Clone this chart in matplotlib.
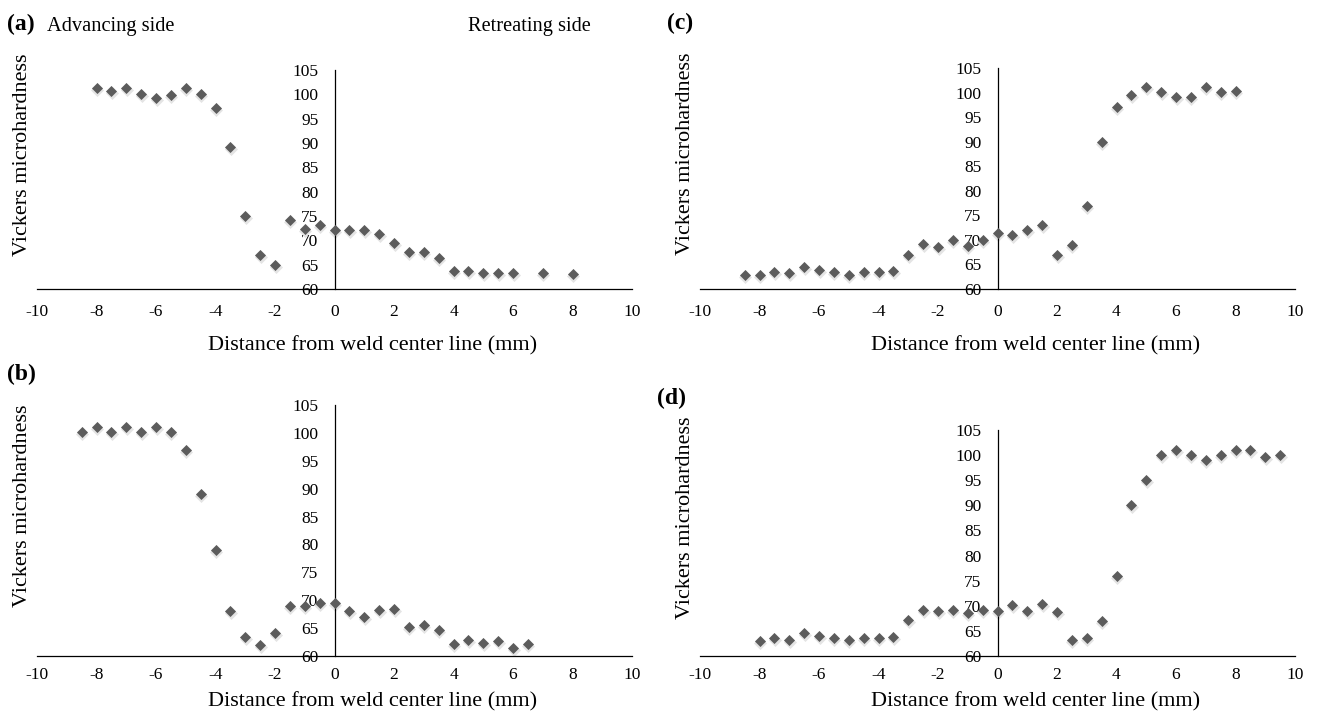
import matplotlib
matplotlib.use('Agg')
import matplotlib.pyplot as plt
import matplotlib.transforms as mtransforms

plt.rcParams['font.family'] = ['Liberation Serif', 'DejaVu Serif']

# panel (a)
xa = [-8, -7.5, -7, -6.5, -6, -5.5, -5, -4.5, -4, -3.5, -3, -2.5, -2, -1.5, -1, -0.5,
      0, 0.5, 1, 1.5, 2, 2.5, 3, 3.5, 4, 4.5, 5, 5.5, 6, 7, 8]
ya = [101.2, 100.7, 101.2, 100.0, 99.2, 99.8, 101.2, 100.1, 97.2, 89.1, 75.0, 67.0, 65.0,
      74.1, 72.4, 73.1, 72.2, 72.2, 72.1, 71.4, 69.5, 67.5, 67.5, 66.4, 63.6, 63.6, 63.2,
      63.2, 63.3, 63.3, 63.1]

# panel (b)
xb = [-8.5, -8, -7.5, -7, -6.5, -6, -5.5, -5, -4.5, -4, -3.5, -3, -2.5, -2, -1.5, -1, -0.5,
      0, 0.5, 1, 1.5, 2, 2.5, 3, 3.5, 4, 4.5, 5, 5.5, 6, 6.5]
yb = [100.1, 101.1, 100.1, 101.1, 100.1, 101.1, 100.1, 97.0, 89.1, 79.0, 68.0, 63.4, 62.0,
      64.1, 69.0, 68.9, 69.5, 69.5, 68.0, 67.0, 68.3, 68.4, 65.2, 65.5, 64.7, 62.2, 62.8,
      62.3, 62.7, 61.5, 62.2]

# panel (c)
xc = [-8.5, -8, -7.5, -7, -6.5, -6, -5.5, -5, -4.5, -4, -3.5, -3, -2.5, -2, -1.5, -1, -0.5,
      0, 0.5, 1, 1.5, 2, 2.5, 3, 3.5, 4, 4.5, 5, 5.5, 6, 6.5, 7, 7.5, 8]
yc = [62.9, 62.9, 63.5, 63.2, 64.5, 63.9, 63.4, 62.95, 63.4, 63.4, 63.7, 67.0, 69.1, 68.6,
      69.9, 68.7, 69.9, 71.4, 70.9, 72.1, 73.0, 66.9, 68.9, 77.0, 90.0, 97.1, 99.5, 101.1,
      100.2, 99.1, 99.0, 101.1, 100.2, 100.3]

# panel (d)
xd = [-8, -7.5, -7, -6.5, -6, -5.5, -5, -4.5, -4, -3.5, -3, -2.5, -2, -1.5, -1, -0.5,
      0, 0.5, 1, 1.5, 2, 2.5, 3, 3.5, 4, 4.5, 5, 5.5, 6, 6.5, 7, 7.5, 8, 8.5, 9, 9.5]
yd = [63.0, 63.6, 63.2, 64.5, 63.9, 63.6, 63.2, 63.6, 63.5, 63.8, 67.1, 69.2, 68.9, 69.2,
      68.5, 69.1, 69.0, 70.2, 69.0, 70.3, 68.8, 63.1, 63.5, 67.0, 76.0, 90.1, 95.1, 100.05,
      101.0, 100.05, 99.1, 100.05, 101.0, 101.0, 99.7, 100.0]

xticks = [-10, -8, -6, -4, -2, 0, 2, 4, 6, 8, 10]
yticks = [60, 65, 70, 75, 80, 85, 90, 95, 100, 105]

fig = plt.figure(figsize=(13.19, 7.14), dpi=100)

W, H = 1319.0, 714.0
# pixel boxes: left, right, top (105), bottom (60), tick pad, xlabel offset below axis
panels = [
    (xa, ya, (37, 632, 70, 289), 11, 57),
    (xc, yc, (700, 1295, 68, 289), 11, 57),
    (xb, yb, (37, 632, 405, 656), 8, 46),
    (xd, yd, (700, 1295, 430, 656), 8, 46),
]

for xs, ys, (l, r, t, b), xpad, xlab in panels:
    ax = fig.add_axes([l / W, 1 - b / H, (r - l) / W, (b - t) / H])
    # soft shadow under each point
    shadow = mtransforms.offset_copy(ax.transData, fig=fig, x=0.5, y=-2, units='dots')
    ax.scatter(xs, ys, marker='D', s=44, color='#e4e4e4', transform=shadow, linewidths=0, zorder=2)
    ax.scatter(xs, ys, marker='D', s=32, color='#5c5c5c', linewidths=0, zorder=3)
    ax.set_xlim(-10, 10)
    ax.set_ylim(60, 105)
    ax.set_xticks(xticks)
    ax.set_xticklabels([str(v) for v in xticks])
    ax.set_yticks(yticks)
    ax.spines['top'].set_visible(False)
    ax.spines['right'].set_visible(False)
    ax.spines['left'].set_position(('data', 0))
    ax.spines['left'].set_linewidth(0.9)
    ax.spines['bottom'].set_linewidth(0.9)
    ax.tick_params(length=0, labelsize=12.5)
    ax.tick_params(axis='x', pad=xpad)
    ax.tick_params(axis='y', pad=11.5)
    ax.patch.set_alpha(0)
    fig.text(((l + r) / 2 + 38) / W, 1 - (b + xlab) / H, 'Distance from weld center line (mm)',
             ha='center', va='center', fontsize=16)
    fig.text((l - 14) / W, 1 - ((t + b) / 2 - 25) / H, 'Vickers microhardness', rotation=90,
             ha='center', va='center', fontsize=16)

fig.text(7 / W, 1 - 24 / H, '(a)', fontsize=17, fontweight='bold', va='center')
fig.text(47 / W, 1 - 26 / H, 'Advancing side', fontsize=14.7, va='center')
fig.text(468 / W, 1 - 26 / H, 'Retreating side', fontsize=14.7, va='center')
fig.text(667 / W, 1 - 23 / H, '(c)', fontsize=17, fontweight='bold', va='center')
fig.text(7 / W, 1 - 374 / H, '(b)', fontsize=17, fontweight='bold', va='center')
fig.text(657 / W, 1 - 398 / H, '(d)', fontsize=17, fontweight='bold', va='center')

fig.savefig('out.png', dpi=100)
